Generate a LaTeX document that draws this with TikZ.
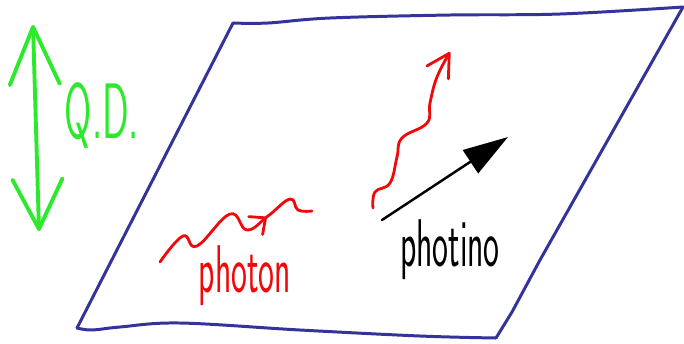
\documentclass[tikz,border=0pt]{standalone}
\usepackage{xcolor}
\usepackage{tikz}
\usetikzlibrary{
  arrows.meta, positioning, decorations.markings
}
\definecolor{colSketchBlue} {HTML}{333399}
\definecolor{colSketchGreen}{HTML}{2AEA2A}
\definecolor{colSketchRed}  {HTML}{EE0A0A}
\tikzset{
  plane/.style={
    draw=colSketchBlue, line width=1.7pt,
    line cap=round, line join=round
  },
  qdarr/.style={
    arrows={Straight Barb[length=11.5mm,width=10mm,round]-Straight Barb[length=10mm,width=10mm,round]},
    draw=colSketchGreen, line width=2.2pt, line cap=round
  },
  photonwave/.style={
    draw=colSketchRed, line width=1.6pt, line cap=round,
    postaction={decorate},
    decoration={markings,
      mark=at position 0.72 with {\arrow{Straight Barb[length=2.5mm,width=4.5mm,round]}}}
  },
  upwave/.style={
    -{Straight Barb[length=4.5mm,width=5mm,round]},
    draw=colSketchRed, line width=1.6pt, line cap=round
  },
  photinoarr/.style={
    -{Triangle[length=9mm,width=5.5mm]},
    draw=black, line width=1.4pt, line cap=round
  },
  hand/.style={inner sep=0pt, font=\sffamily}
}
\newcommand{\handtext}[2]{%
  \scalebox{0.8}[1.6]{\fontsize{#1}{#1}\selectfont #2}%
}

\begin{document}
\begin{tikzpicture}[x=0.02cm, y=-0.02cm]
  \useasboundingbox (0,0) rectangle (684,343);

  %% ── Plane (corners) ─────────────────────────────────────────────
  \coordinate (planeTL) at (233,23);
  \coordinate (planeTR) at (683,7);
  \coordinate (planeBR) at (496,338);
  \coordinate (planeBL) at (77,328);

  \draw[plane] plot[smooth, tension=0.6] coordinates
    {(planeTL) (268,23) (330,18) (450,15) (560,14) (planeTR)};
  \draw[plane] (planeTR) -- (540,260) -- (512,312) -- (planeBR);
  \draw[plane] plot[smooth, tension=0.6] coordinates
    {(planeBR) (420,336) (300,330) (180,323) (120,327) (92,330) (planeBL)};
  \draw[plane] (planeBL) -- (planeTL);

  %% ── Q.D. double arrow ───────────────────────────────────────────
  \coordinate (qdTop) at (33,25);
  \coordinate (qdBot) at (39,231);
  \draw[qdarr] (qdTop) -- (qdBot);
  \node[hand, text=colSketchGreen] (qd) at (102,115) {\handtext{28}{Q.D.}};

  %% ── Photon ──────────────────────────────────────────────────────
  \coordinate (photonStart) at (160,262);
  \coordinate (photonEnd)   at (312,211);
  \draw[photonwave] plot[smooth, tension=0.7] coordinates
    {(photonStart) (183,236) (197,246) (230,214) (247,230)
     (268,216) (290,199) (298,210) (photonEnd)};
  \node[hand, text=colSketchRed] (photon) at (245,276) {\handtext{24}{photon}};

  % outgoing photon, heading up
  \coordinate (upStart) at (373,208);
  \coordinate (upEnd)   at (450,52);
  \draw[upwave] plot[smooth, tension=0.7] coordinates
    {(upStart) (375,192) (390,183) (397,157) (402,138)
     (427,123) (430,103) (437,77) (upEnd)};

  %% ── Photino ─────────────────────────────────────────────────────
  \coordinate (photinoStart) at (382,220);
  \coordinate (photinoEnd)   at (508,137);
  \draw[photinoarr] (photinoStart) -- (photinoEnd);
  \node[hand, text=black] (photino) at (450,250) {\handtext{24}{photino}};
\end{tikzpicture}
\end{document}
